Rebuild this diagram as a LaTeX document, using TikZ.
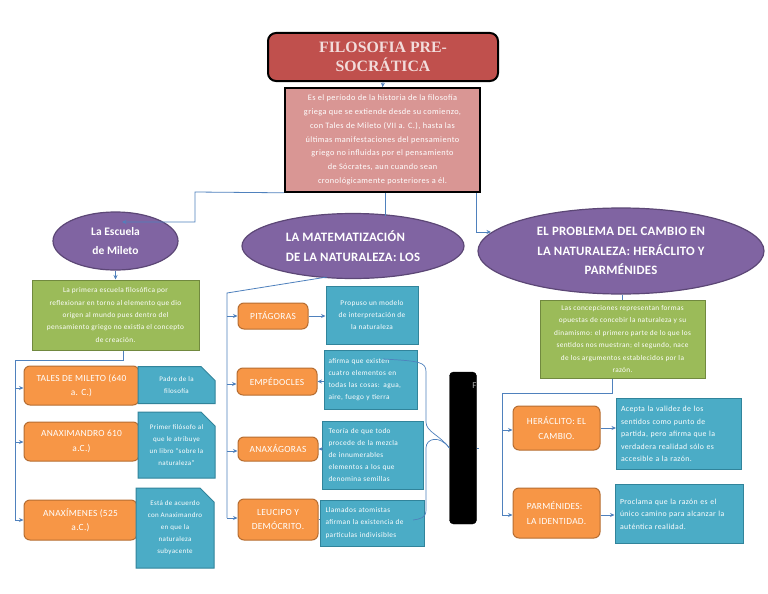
\documentclass[tikz,border=0pt]{standalone}
\usepackage{fontspec}
\setmainfont{Carlito}
\newfontfamily\titlefont{Liberation Serif}
\newfontfamily\smallfont[LetterSpace=5]{Carlito}
\newfontfamily\orfont[LetterSpace=3]{Carlito}
\newfontfamily\capsfont[LetterSpace=2]{Carlito}
\usetikzlibrary{arrows.meta,shapes.geometric,shapes.misc}
\definecolor{cline}{HTML}{4F81BD}
\definecolor{titfill}{HTML}{C0504D}
\definecolor{tittext}{HTML}{F2DCDB}
\definecolor{descfill}{HTML}{D99694}
\definecolor{purp}{HTML}{8064A2}
\definecolor{purpd}{HTML}{5C4776}
\definecolor{grn}{HTML}{9BBB59}
\definecolor{grnd}{HTML}{71893F}
\definecolor{orng}{HTML}{F79646}
\definecolor{orngd}{HTML}{B66D31}
\definecolor{blu}{HTML}{4BACC6}
\definecolor{blud}{HTML}{31849B}
\tikzset{
  conn/.style={draw=cline,line width=0.8pt},
  arr/.style={conn,-{Stealth[length=4.5pt,width=4pt]}},
  titlebox/.style={draw=black,line width=2pt,fill=titfill,rounded corners=8pt,text=tittext,inner sep=0pt,align=center,font=\titlefont\bfseries\fontsize{15.8}{19.5}\selectfont},
  descbox/.style={draw=black,line width=1.6pt,fill=descfill,text=white,inner sep=0pt,align=center,font=\smallfont\fontsize{8.3}{13.8}\selectfont},
  ell/.style={ellipse,draw=purpd,line width=1.2pt,fill=purp,text=white,inner sep=0pt,font=\bfseries\fontsize{11.5}{19.5}\selectfont},
  ellcaps/.style={ell,font=\capsfont\bfseries\fontsize{12.8}{19.5}\selectfont},
  gbox/.style={draw=grnd,line width=1pt,fill=grn,text=white,inner sep=0pt,align=center,font=\smallfont\fontsize{7.3}{12.4}\selectfont},
  obox/.style={draw=orngd,line width=1pt,fill=orng,text=white,inner sep=0pt,rounded corners=6pt,font=\orfont\fontsize{9.4}{14.5}\selectfont},
  bbox/.style={draw=blud,line width=1pt,fill=blu,text=white,inner sep=0pt,font=\smallfont\fontsize{7.3}{12.2}\selectfont},
  rbox/.style={bbox,font=\smallfont\fontsize{7.8}{12.4}\selectfont},
  snip/.style={bbox,font=\smallfont\fontsize{7}{12}\selectfont,chamfered rectangle,chamfered rectangle corners={north east},chamfered rectangle xsep=7pt,chamfered rectangle ysep=7pt},
  blk/.style={fill=black,draw=black,rounded corners=4pt,inner sep=0pt}
}
\begin{document}
\begin{tikzpicture}[x=1pt,y=-1pt]
\useasboundingbox[fill=white] (0,0) rectangle (768,594);
% title and description
\node[titlebox,minimum width=230pt,minimum height=48pt] (title) at (383,57) {FILOSOFIA PRE-\\SOCRÁTICA};
\node[descbox,minimum width=195pt,minimum height=104pt] (desc) at (382.5,140)
 {Es el período de la historia de la filosofía\\griega que se extiende desde su comienzo,\\con Tales de Mileto (VII a. C.), hasta las\\últimas manifestaciones del pensamiento\\griego no influidas por el pensamiento\\de Sócrates, aun cuando sean\\cronológicamente posteriores a él.};
% ellipses
\node[ell,align=center,minimum width=125pt,minimum height=58pt] (esc) at (115.5,241) {La Escuela\\de Mileto};
\node[ellcaps,align=left,minimum width=222pt,minimum height=65pt] (mat) at (353,246) {LA MATEMATIZACIÓN\\DE LA NATURALEZA: LOS};
\node[ellcaps,align=center,minimum width=286pt,minimum height=86pt] (prob) at (621,251) {EL PROBLEMA DEL CAMBIO EN\\LA NATURALEZA: HERÁCLITO Y\\PARMÉNIDES};
% green boxes
\node[gbox,minimum width=167pt,minimum height=70pt] (gl) at (115.5,315)
 {La primera escuela filosófica por\\reflexionar en torno al elemento que dio\\origen al mundo pues dentro del\\pensamiento griego no existía el concepto\\de creación.};
\node[gbox,minimum width=165pt,minimum height=78pt] (gr) at (622.5,339)
 {Las concepciones representan formas\\opuestas de concebir la naturaleza y su\\dinamismo: el primero parte de lo que los\\sentidos nos muestran; el segundo, nace\\de los argumentos establecidos por la\\razón.};
% left column
\node[obox,align=center,minimum width=115pt,minimum height=39pt] (tal) at (81.5,385.5) {TALES DE MILETO (640\\a. C.)};
\node[obox,align=center,minimum width=115pt,minimum height=39pt] (amd) at (81.5,441.5) {ANAXIMANDRO 610\\a.C.)};
\node[obox,align=center,minimum width=113pt,minimum height=40pt] (amn) at (80.5,520) {ANAXÍMENES (525\\a.C.)};
\node[snip,align=center,minimum width=77pt,minimum height=37pt] (padre) at (176.5,385) {Padre de la\\filosofía};
\node[snip,align=center,minimum width=77pt,minimum height=66pt] (primer) at (176.5,445) {Primer filósofo al\\que le atribuye\\un libro “sobre la\\naturaleza”};
\node[snip,align=center,minimum width=78pt,minimum height=80pt] (esta) at (175,528) {Está de acuerdo\\con Anaximandro\\en que la\\naturaleza\\subyacente};
% middle column
\node[obox,minimum width=70pt,minimum height=26pt] (pit) at (273,316) {PITÁGORAS};
\node[obox,minimum width=80pt,minimum height=27pt] (emp) at (277,381.5) {EMPÉDOCLES};
\node[obox,minimum width=80pt,minimum height=24pt] (anx) at (278,449) {ANAXÁGORAS};
\node[obox,align=center,minimum width=80pt,minimum height=41pt] (leu) at (278,519.5) {LEUCIPO Y\\DEMÓCRITO.};
\node[bbox,align=center,minimum width=92pt,minimum height=58pt] (prop) at (372,315) {Propuso un modelo\\de interpretación de\\la naturaleza};
\node[bbox,text width=84pt,align=left,minimum width=93pt,minimum height=59pt] (afi) at (370.5,379.5) {afirma que existen\\cuatro elementos en\\todas las cosas: agua,\\aire, fuego y tierra};
\node[bbox,text width=88pt,align=left,minimum width=101pt,minimum height=68pt] (teo) at (372.5,455) {Teoría de que todo\\procede de la mezcla\\de innumerables\\elementos a los que\\denomina semillas};
\node[bbox,text width=94pt,align=left,minimum width=104pt,minimum height=46pt] (lla) at (372.5,523) {Llamados atomistas\\afirman la existencia de\\partículas indivisibles};
\node[blk,minimum width=27pt,minimum height=152pt] (blk) at (463,448) {};
\node[text=gray!60,font=\fontsize{9}{9}\selectfont,inner sep=0pt] (ftxt) at (474.5,386) {F};
% right column
\node[obox,align=center,minimum width=87pt,minimum height=44pt] (her) at (556.5,428) {HERÁCLITO: EL\\CAMBIO.};
\node[obox,align=left,minimum width=87pt,minimum height=50pt] (par) at (556.5,513) {PARMÉNIDES:\\LA IDENTIDAD.};
\node[rbox,text width=116pt,align=left,minimum width=125pt,minimum height=71pt] (ace) at (679,434) {Acepta la validez de los\\sentidos como punto de\\partida, pero afirma que la\\verdadera realidad sólo es\\accesible a la razón.};
\node[rbox,text width=118pt,align=left,minimum width=128pt,minimum height=59pt] (pro) at (679,514) {Proclama que la razón es el\\único camino para alcanzar la\\auténtica realidad.};
% connectors top
\draw[arr] (title.south) -- (desc.north);
\coordinate (escin) at (122,222);
\draw[arr] (desc.south west) -- (195,192) -- (195,222) -- (escin);
\draw[conn] (desc.south -| 385,0) -- (385,216);
\coordinate (probin) at (491,232);
\draw[arr] (desc.south east -| 476,0) -- (476,232) -- (probin);
\draw[arr] (esc.south) -- (gl.north);
\draw[conn] (prob.south -| gr.north) -- (gr.north);
% left column connectors
\draw[conn] (gl.south -| 123,0) -- (123,360) -- (15,360) -- (15,520);
\draw[arr] (15,388) -- (tal.west |- 0,388);
\draw[arr] (15,442) -- (amd.west |- 0,442);
\draw[arr] (15,520) -- (amn.west);
% middle column connectors
\draw[conn] (327,277) -- (227,293) -- (227,518);
\draw[arr] (227,316) -- (pit.west);
\draw[arr] (227,384) -- (emp.west |- 0,384);
\draw[arr] (227,451) -- (anx.west |- 0,451);
\draw[arr] (227,518) -- (leu.west |- 0,518);
\draw[arr] (pit.east) -- (prop.west |- pit.east);
\draw[arr] (afi.west |- emp.east) -- (emp.east);
\draw[arr] (teo.west |- anx.east) -- (anx.east);
\draw[conn] (leu.east) -- (lla.west |- leu.east);
% brace to black box
\draw[conn,line width=0.7pt] (383,359) .. controls (420,361) and (426,362) .. (426,372) -- (426,422) .. controls (426,432) and (440,435) .. (blk.west);
\draw[conn,line width=0.7pt] (blk.west) .. controls (440,435) and (426,438) .. (426,448) -- (426,510) .. controls (426,518) and (420,519) .. (413,520);
\draw[conn,line width=0.7pt] (blk.east) -- ++(2,0);
% right column connectors
\draw[conn] (gr.south -| 612,0) -- (612,393) -- (502,393) -- (502,515);
\draw[arr] (502,430) -- (her.west |- 0,430);
\draw[arr] (502,515) -- (par.west |- 0,515);
\draw[arr] (her.east |- 0,428) -- (ace.west |- 0,428);
\draw[arr] (par.east |- 0,515) -- (pro.west |- 0,515);
\end{tikzpicture}
\end{document}
